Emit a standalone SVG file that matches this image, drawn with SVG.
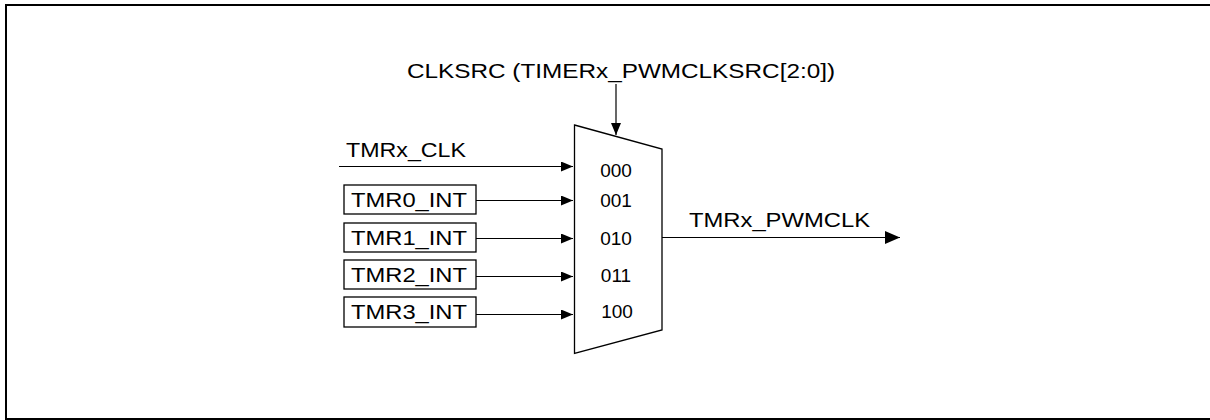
<svg xmlns="http://www.w3.org/2000/svg" width="1210" height="420" viewBox="0 0 1210 420">
<style>
text{font-family:"Liberation Sans",Arial,sans-serif;fill:#000}
.lbl{font-size:21px}
.sel{font-size:19px;text-anchor:middle}
.ln{stroke:#000;stroke-width:1.2;fill:none}
.box{fill:#fff;stroke:#000;stroke-width:1.3}
</style>
<defs>
<marker id="ah" markerWidth="12" markerHeight="10" refX="12" refY="5" orient="auto" markerUnits="userSpaceOnUse">
<path d="M0,0 L12,5 L0,10 Z" fill="#000"/>
</marker>
<marker id="ah2" markerWidth="15" markerHeight="13" refX="15" refY="6.5" orient="auto" markerUnits="userSpaceOnUse">
<path d="M0,0 L15,6.5 L0,13 Z" fill="#000"/>
</marker>
</defs>
<rect x="6" y="5" width="1212" height="414" fill="none" stroke="#000" stroke-width="2"/>
<g id="mux">
<path d="M574.5,125 L662,149 L662,330 L574.5,353.5 Z" class="box"/>
<text class="sel" x="616" y="177">000</text>
<text class="sel" x="616" y="207">001</text>
<text class="sel" x="616" y="245">010</text>
<text class="sel" x="616" y="282">011</text>
<text class="sel" x="617" y="318">100</text>
</g>
<g id="clksrc">
<text class="lbl" x="407" y="78" textLength="428" lengthAdjust="spacingAndGlyphs">CLKSRC (TIMERx_PWMCLKSRC[2:0])</text>
</g>
<g id="tmrx_clk">
<text class="lbl" x="346" y="157" textLength="120" lengthAdjust="spacingAndGlyphs">TMRx_CLK</text>
</g>
<g id="tmr0">
<rect class="box" x="344" y="185" width="132" height="29"/>
<text class="lbl" x="351" y="207" textLength="116" lengthAdjust="spacingAndGlyphs">TMR0_INT</text>
</g>
<g id="tmr1">
<rect class="box" x="344" y="223" width="132" height="29"/>
<text class="lbl" x="351" y="245" textLength="116" lengthAdjust="spacingAndGlyphs">TMR1_INT</text>
</g>
<g id="tmr2">
<rect class="box" x="344" y="260" width="132" height="29"/>
<text class="lbl" x="351" y="282" textLength="116" lengthAdjust="spacingAndGlyphs">TMR2_INT</text>
</g>
<g id="tmr3">
<rect class="box" x="344" y="297" width="132" height="30"/>
<text class="lbl" x="351" y="319" textLength="116" lengthAdjust="spacingAndGlyphs">TMR3_INT</text>
</g>
<g id="pwmclk">
<text class="lbl" x="689" y="227" textLength="181" lengthAdjust="spacingAndGlyphs">TMRx_PWMCLK</text>
</g>
<g id="connectors">
<line class="ln" x1="616" y1="84" x2="616" y2="135" marker-end="url(#ah)"/>
<line class="ln" x1="339" y1="166.5" x2="573" y2="166.5" marker-end="url(#ah)"/>
<line class="ln" x1="476" y1="200.5" x2="573" y2="200.5" marker-end="url(#ah)"/>
<line class="ln" x1="476" y1="238.5" x2="573" y2="238.5" marker-end="url(#ah)"/>
<line class="ln" x1="476" y1="276.5" x2="573" y2="276.5" marker-end="url(#ah)"/>
<line class="ln" x1="476" y1="314.5" x2="573" y2="314.5" marker-end="url(#ah)"/>
<line class="ln" x1="662" y1="237.5" x2="900" y2="237.5" marker-end="url(#ah2)"/>
</g>
</svg>
